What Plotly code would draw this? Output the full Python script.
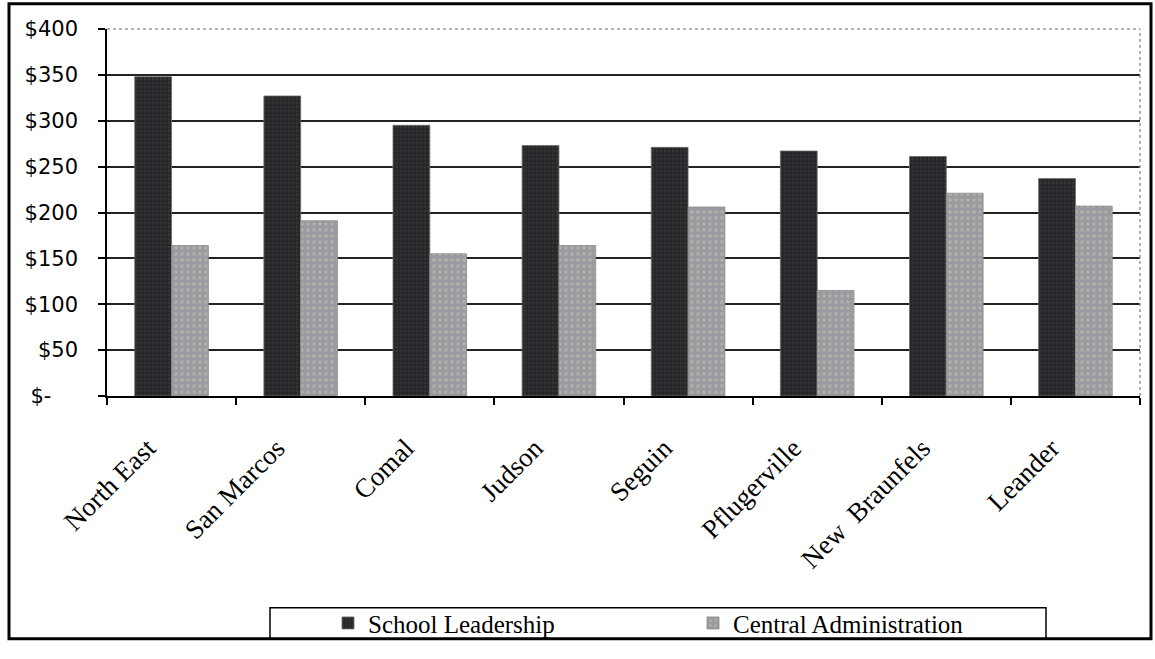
import plotly.graph_objects as go

# District spending per student (dollars)
districts = ["North East", "San Marcos", "Comal", "Judson", "Seguin",
             "Pflugerville", "New  Braunfels", "Leander"]
school_leadership = [348, 327, 295, 273, 271, 267, 261, 237]
central_admin = [164, 191, 155, 164, 206, 115, 221, 207]

y_ticks = [0, 50, 100, 150, 200, 250, 300, 350, 400]
y_tick_text = ["$-\u00a0\u00a0\u00a0\u00a0", "$50", "$100", "$150", "$200",
               "$250", "$300", "$350", "$400"]

W, H = 1155, 659
ML, MR, MT, MB = 107, 15, 29, 252
PW, PH = W - ML - MR, H - MT - MB

# trailing no-break spaces pull the slanted category labels away from the ticks
LABEL_PAD = "\u00a0" * 5
x_tick_text = [d + LABEL_PAD for d in districts]


def px_x(p):
    return (p - ML) / PW


def px_y(p):
    return (H - MB - p) / PH


fig = go.Figure()
fig.add_trace(go.Bar(
    x=districts, y=school_leadership, name="School Leadership",
    marker=dict(color="#26262e", line=dict(color="#6a6a6a", width=0.8),
                pattern=dict(shape=".", fgcolor="#45452c", bgcolor="#26262e",
                             size=4, solidity=0.3)),
))
fig.add_trace(go.Bar(
    x=districts, y=central_admin, name="Central Administration",
    marker=dict(color="#9a9aa2", line=dict(color="#8a8a8a", width=0.8),
                pattern=dict(shape=".", fgcolor="#c9c9a6", bgcolor="#9a9aa2",
                             size=6, solidity=0.25)),
))

shapes = [
    # plot-area top and right edges (dotted grey)
    dict(type="line", xref="paper", yref="paper", x0=0, x1=1, y0=1, y1=1,
         line=dict(color="white", width=3), layer="above"),
    dict(type="line", xref="paper", yref="paper", x0=0, x1=1, y0=1, y1=1,
         line=dict(color="#9a9a9a", width=1.5, dash="dot"), layer="above"),
    dict(type="line", xref="paper", yref="paper", x0=1, x1=1, y0=0, y1=1,
         line=dict(color="#9a9a9a", width=1.5, dash="dot"), layer="above"),
    # outer chart frame
    dict(type="rect", xref="paper", yref="paper",
         x0=px_x(9), x1=px_x(1151), y0=px_y(3), y1=px_y(657),
         line=dict(color="black", width=3), fillcolor="rgba(0,0,0,0)"),
    # legend box
    dict(type="rect", xref="paper", yref="paper",
         x0=px_x(270), x1=px_x(1046), y0=px_y(625), y1=px_y(657),
         line=dict(color="black", width=1.5), fillcolor="rgba(0,0,0,0)"),
]

fig.update_layout(
    width=W, height=H,
    margin=dict(l=ML, r=MR, t=MT, b=MB, pad=0),
    paper_bgcolor="white", plot_bgcolor="white",
    barmode="group", bargap=0.43, bargroupgap=0,
    font=dict(family="Liberation Serif", color="black"),
    showlegend=True,
    legend=dict(
        orientation="h", x=px_x(328), xanchor="left",
        y=px_y(641), yanchor="middle",
        font=dict(family="Liberation Serif", size=25, color="black"),
        bgcolor="rgba(0,0,0,0)", borderwidth=0,
        entrywidth=320, entrywidthmode="pixels",
        itemclick=False, itemdoubleclick=False,
    ),
    shapes=shapes,
)

fig.update_yaxes(
    range=[0, 400], tickvals=y_ticks, ticktext=y_tick_text,
    showgrid=True, gridcolor="#222222", gridwidth=1.5,
    zeroline=False, showline=True, linecolor="black", linewidth=1.5,
    ticks="outside", ticklen=7, tickcolor="black", tickwidth=1.5,
    ticklabelstandoff=16,
    tickfont=dict(family="DejaVu Sans", size=21, color="black"),
)
fig.update_xaxes(
    tickmode="array", tickvals=districts, ticktext=x_tick_text,
    showline=True, linecolor="black", linewidth=1.5,
    ticks="outside", ticklen=7, tickcolor="black", tickwidth=1.5,
    tickson="boundaries", tickangle=-45, ticklabelstandoff=0,
    tickfont=dict(family="Liberation Serif", size=27, color="black"),
    showgrid=False,
)

fig.write_html("out.html")
